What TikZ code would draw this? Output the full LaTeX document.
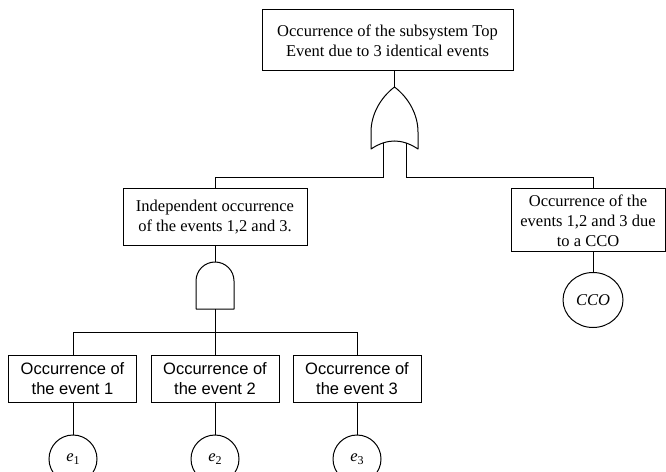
\documentclass[tikz,border=0pt]{standalone}
\usepackage{fontspec}
\setmainfont{Liberation Serif}
\newfontfamily\arialf{Liberation Sans}
\usetikzlibrary{shapes.geometric}
\begin{document}
\begin{tikzpicture}[x=1bp,y=-1bp,
  line width=1bp,
  eventbox/.style={draw, rectangle, inner sep=0pt, align=center,
    font=\fontsize{16.5bp}{20bp}\selectfont},
  basicbox/.style={eventbox, font=\arialf\fontsize{16.5bp}{20bp}\selectfont,
    minimum width=128bp, minimum height=47bp},
  basic/.style={draw, circle, inner sep=0pt, minimum size=48bp,
    font=\fontsize{16.5bp}{20bp}\selectfont},
  wire/.style={line width=1bp},
  gate/.style={line width=1bp, line join=round}]
\useasboundingbox (0,0) rectangle (666,472);

% intermediate and top events
\node[eventbox, minimum width=251bp, minimum height=61bp] (top) at (387.5,40.5)
  {Occurrence of the subsystem Top\\Event due to 3 identical events};
\node[eventbox, minimum width=184bp, minimum height=57bp] (indep) at (215,217.5)
  {Independent occurrence\\of the events 1,2 and 3.};
\node[eventbox, minimum width=154bp, minimum height=63bp] (common) at (588,220.5)
  {Occurrence of the\\events 1,2 and 3 due\\to a CCO};

% basic event boxes
\node[basicbox] (ev1) at (72.5,378.5) {Occurrence of\\the event 1};
\node[basicbox] (ev2) at (215,378.5) {Occurrence of\\the event 2};
\node[basicbox] (ev3) at (357,378.5) {Occurrence of\\the event 3};

% basic events
\node[basic] (e1) at (73,459) {\textit{e}\raisebox{-0.35ex}{\fontsize{12bp}{12bp}\selectfont 1}};
\node[basic] (e2) at (215,459) {\textit{e}\raisebox{-0.35ex}{\fontsize{12bp}{12bp}\selectfont 2}};
\node[basic] (e3) at (357,459) {\textit{e}\raisebox{-0.35ex}{\fontsize{12bp}{12bp}\selectfont 3}};
\node[draw, ellipse, inner sep=0pt, minimum width=60bp, minimum height=55bp,
  font=\itshape\fontsize{16.5bp}{20bp}\selectfont] (cco) at (593,300) {CCO};

% OR gate
\coordinate (orout) at (394.5,87);
\coordinate (orinA) at (383.5,142.75);
\coordinate (orinB) at (406,142.75);
\draw[gate] (orout) .. controls (380,98) and (371,115) .. (371,132) -- (371,149)
  .. controls (380,143) and (388,141) .. (394.5,141)
  .. controls (401,141) and (409,143) .. (418,149) -- (418,132)
  .. controls (418,115) and (409,98) .. (orout) -- cycle;

% AND gate
\coordinate (andout) at (215,262);
\coordinate (andin) at (215,309);
\draw[gate] (196,309) -- (196,281) .. controls (196,270.5) and (204.5,262) .. (andout)
  .. controls (225.5,262) and (234,270.5) .. (234,281) -- (234,309) -- cycle;

% bus levels
\coordinate (busA) at (0,178);
\coordinate (busB) at (0,332);

% connectors of the top gate
\draw[wire] (top.south -| orout) -- (orout);
\draw[wire] (orinA) -- (orinA |- busA) -- (indep.north |- busA) -- (indep.north);
\draw[wire] (orinB) -- (orinB |- busA) -- (cco.north |- busA) -- (cco.north |- common.north);

% connectors of the AND gate
\draw[wire] (indep.south) -- (andout);
\draw[wire] (andin) -- (andin |- busB);
\draw[wire] (e1.north |- busB) -- (e3.north |- busB);
\draw[wire] (e1.north |- busB) -- (e1.north |- ev1.north);
\draw[wire] (ev2.north |- busB) -- (ev2.north);
\draw[wire] (e3.north |- busB) -- (e3.north |- ev3.north);

% connectors to basic events
\draw[wire] (e1.north |- ev1.south) -- (e1.north);
\draw[wire] (ev2.south) -- (e2.north);
\draw[wire] (e3.north |- ev3.south) -- (e3.north);
\draw[wire] (cco.north |- common.south) -- (cco.north);
\end{tikzpicture}
\end{document}
